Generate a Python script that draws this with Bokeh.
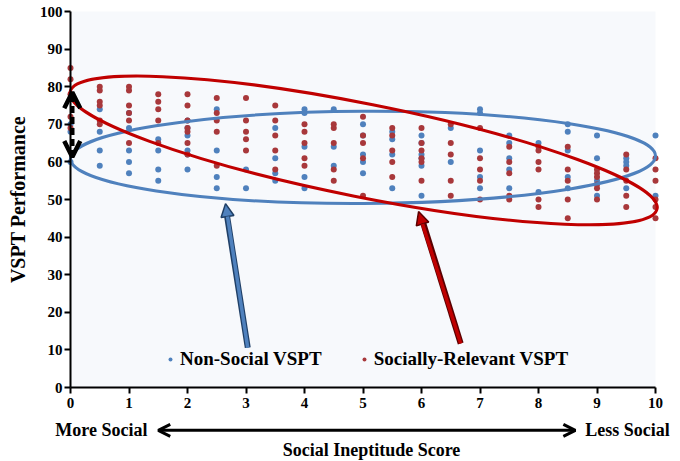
from bokeh.plotting import figure
from bokeh.models import (Range1d, Legend, LegendItem, Label, Arrow, OpenHead,
                          NormalHead, FixedTicker, BoxAnnotation)
from bokeh.embed import file_html
from bokeh.resources import INLINE

# ---------------- data ----------------
score_levels = [0, 0.5, 1, 1.5, 2, 2.5, 3, 3.5, 4, 4.5, 5,
                5.5, 6, 6.5, 7, 7.5, 8, 8.5, 9, 9.5, 10]

nonsocial_by_score = [
    [70, 68, 60],
    [74, 68, 63, 59],
    [73, 69, 63, 60, 57],
    [66, 63, 58, 55],
    [71, 69, 67, 63, 62, 58],
    [74, 63, 56, 53],
    [58, 53],
    [69, 61, 57, 55],
    [74, 73, 64, 56, 53],
    [74, 64, 59],
    [70, 67, 62, 60, 57],
    [68, 66, 62, 53],
    [67, 65, 62, 61, 59, 51],
    [69, 60],
    [74, 73, 63, 56, 53],
    [67, 65, 61, 58, 53],
    [65, 52],
    [70, 68, 63, 56, 53],
    [67, 61, 55, 51],
    [61, 60, 59, 53],
    [67, 51],
]

social_by_score = [
    [85, 82, 78, 72, 69],
    [80, 79, 76, 75, 71, 70],
    [80, 79, 75, 73, 71, 65],
    [78, 76, 74, 71, 65],
    [78, 75, 71, 69, 68, 65, 62],
    [77, 73, 71, 68, 59],
    [77, 71, 68, 66, 63],
    [75, 71, 67, 63, 58],
    [70, 68, 65, 61, 59],
    [70, 69, 65, 58, 55],
    [72, 67, 65, 61, 51],
    [69, 67, 63, 60, 56],
    [69, 65, 63, 61, 60, 55],
    [70, 65, 62, 55, 51],
    [69, 61, 58, 55, 50],
    [64, 60, 57, 51, 50],
    [64, 63, 60, 58, 50, 48],
    [64, 58, 55, 50, 45],
    [58, 57, 56, 54, 53, 50],
    [62, 58, 55, 51, 48],
    [61, 58, 55, 50, 48, 45],
]

x_ticks = [0, 1, 2, 3, 4, 5, 6, 7, 8, 9, 10]
y_ticks = [0, 10, 20, 30, 40, 50, 60, 70, 80, 90, 100]

series_names = ["Non-Social VSPT", "Socially-Relevant VSPT"]
y_title = "VSPT Performance"
x_title = "Social Ineptitude Score"
x_left_note = "More Social"
x_right_note = "Less Social"

nonsocial_x = [s for s, col in zip(score_levels, nonsocial_by_score) for _ in col]
nonsocial_y = [v for col in nonsocial_by_score for v in col]
social_x = [s for s, col in zip(score_levels, social_by_score) for _ in col]
social_y = [v for col in social_by_score for v in col]

# ---------------- styling ----------------
BLUE = "#4F81BD"
BLUE_DARK = "#1F3F66"
RED_DOT = "#A8383B"
RED = "#C00000"
RED_DARK = "#5A0000"
FONT = "Liberation Serif"

W, H = 680, 460                 # canvas
AX_LEFT, AX_TOP, AX_BOTTOM = 70, 11, 387   # pixel positions of the axes box
AX_W = 585
x0, x1 = x_ticks[0], x_ticks[-1]
y0, y1 = y_ticks[0], y_ticks[-1]
ppx = AX_W / (x1 - x0)
ppy = (AX_BOTTOM - AX_TOP) / (y1 - y0)

p = figure(frame_width=W, frame_height=H,
           min_border_left=0, min_border_right=0,
           min_border_top=0, min_border_bottom=0,
           x_range=Range1d(x0 - AX_LEFT / ppx, x0 + (W - AX_LEFT) / ppx),
           y_range=Range1d(y0 - (H - AX_BOTTOM) / ppy, y1 + AX_TOP / ppy),
           output_backend="svg", toolbar_location=None)

p.background_fill_color = "white"
p.border_fill_color = "white"
p.outline_line_color = None
p.xgrid.visible = False
p.ygrid.visible = False

p.add_layout(BoxAnnotation(left=x0, right=x1, bottom=y0, top=y1,
                           fill_color="#F7F9FC", fill_alpha=1,
                           line_color=None, level="underlay"))

for ax in (p.xaxis, p.yaxis):
    ax.fixed_location = 0
    ax.axis_line_color = "black"
    ax.axis_line_width = 2
    ax.major_tick_line_color = "black"
    ax.major_tick_line_width = 2
    ax.major_tick_in = 0
    ax.major_tick_out = 6
    ax.minor_tick_line_color = None
    ax.major_label_text_font = FONT
    ax.major_label_text_font_style = "bold"
    ax.major_label_text_font_size = "15px"
    ax.major_label_text_color = "black"

p.xaxis.bounds = (x0, x1)
p.yaxis.bounds = (y0, y1)
p.xaxis.ticker = FixedTicker(ticks=x_ticks)
p.yaxis.ticker = FixedTicker(ticks=y_ticks)
p.xaxis.major_label_standoff = 4
p.yaxis.major_label_standoff = 2

p.yaxis.axis_label = y_title
p.yaxis.axis_label_text_font = FONT
p.yaxis.axis_label_text_font_style = "bold"
p.yaxis.axis_label_text_font_size = "20px"
p.yaxis.axis_label_text_color = "black"
p.yaxis.axis_label_standoff = 8

# ---------------- points ----------------
r_blue = p.scatter(nonsocial_x, nonsocial_y, size=6, marker="circle",
                   fill_color=BLUE, line_color=None)
r_red = p.scatter(social_x, social_y, size=6, marker="circle",
                  fill_color=RED_DOT, line_color=None)

# ---------------- ellipses (annotation shapes) ----------------
p.ellipse(x=5.0, y=61.2, width=10.0, height=24.5, angle=0.005,
          fill_color=None, line_color=BLUE, line_width=3)
p.ellipse(x=5.01, y=63.05, width=10.23, height=24.8, angle=-0.197,
          fill_color=None, line_color=RED, line_width=3)

# ---------------- vertical double arrow at x=0 ----------------
p.add_layout(Arrow(x_start=0.03, y_start=61.3, x_end=0.03, y_end=78.5,
                   line_color="black", line_width=4.5, line_dash="7 4",
                   start=OpenHead(size=16, line_width=4.5, line_color="black"),
                   end=OpenHead(size=16, line_width=4.5, line_color="black")))

# ---------------- pointer arrows ----------------
p.add_layout(Arrow(x_start=3.03, y_start=10.6, x_end=2.66, y_end=47.2,
                   line_color=BLUE_DARK, line_width=6, end=None))
p.add_layout(Arrow(x_start=3.03, y_start=10.6, x_end=2.65, y_end=48.9,
                   line_color=BLUE, line_width=3.5,
                   end=NormalHead(size=13, fill_color=BLUE,
                                  line_color=BLUE_DARK, line_width=1.5)))
p.add_layout(Arrow(x_start=6.67, y_start=11.7, x_end=6.0, y_end=45.2,
                   line_color=RED_DARK, line_width=6, end=None))
p.add_layout(Arrow(x_start=6.67, y_start=11.7, x_end=5.95, y_end=46.8,
                   line_color=RED, line_width=3.5,
                   end=NormalHead(size=13, fill_color=RED,
                                  line_color=RED_DARK, line_width=1.5)))

# ---------------- legend ----------------
legend = Legend(items=[LegendItem(label=series_names[0], renderers=[r_blue]),
                       LegendItem(label=series_names[1], renderers=[r_red])],
                orientation="horizontal", location=(165, 90),
                background_fill_alpha=0, border_line_color=None,
                padding=0, margin=0, spacing=37,
                glyph_width=10, glyph_height=20, label_standoff=5,
                label_text_font=FONT, label_text_font_style="bold",
                label_text_font_size="19px", label_text_color="black")
p.add_layout(legend)

# ---------------- notes below the x axis ----------------
lbl_style = dict(text_font=FONT, text_font_style="bold",
                 text_font_size="18px", text_color="black",
                 text_baseline="middle")
p.add_layout(Label(x=1.316, y=-11.4, text=x_left_note, text_align="right", **lbl_style))
p.add_layout(Label(x=8.80, y=-11.4, text=x_right_note, text_align="left", **lbl_style))
p.add_layout(Label(x=5.145, y=-16.5, text=x_title, text_align="center", **lbl_style))
p.add_layout(Arrow(x_start=1.50, y_start=-11.4, x_end=8.63, y_end=-11.4,
                   line_color="black", line_width=3,
                   start=OpenHead(size=12, line_width=3, line_color="black"),
                   end=OpenHead(size=12, line_width=3, line_color="black")))

open("out.html", "w").write(file_html(p, INLINE))
